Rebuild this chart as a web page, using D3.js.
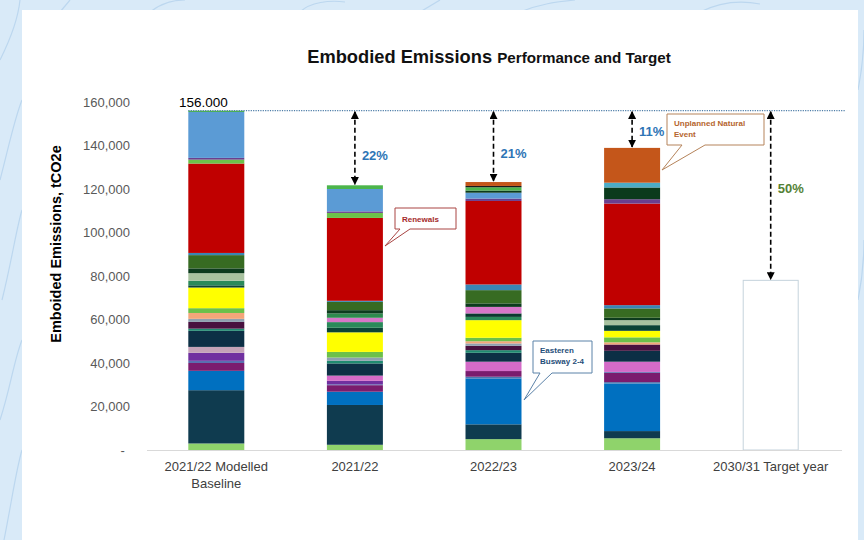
<!DOCTYPE html>
<html>
<head>
<meta charset="utf-8">
<script src="https://cdn.jsdelivr.net/npm/d3@7"></script>
<style>
  html, body { margin: 0; padding: 0; background: #d9eaf8; }
  svg { display: block; font-family: "Liberation Sans", Arial, sans-serif; }
</style>
</head>
<body>
<svg id="chart" width="864" height="540"></svg>
<script>
// Bar categories (x axis)
const categories = ["2021/22 Modelled Baseline", "2021/22", "2022/23", "2023/24", "2030/31 Target year"];
const categoryLines = [["2021/22 Modelled", "Baseline"], ["2021/22"], ["2022/23"], ["2023/24"], ["2030/31 Target year"]];

// Stacked components, bottom to top
const seriesNames = [
  "lg", "navy", "Easteren Busway 2-4", "steel", "mag", "steel2", "purp", "mauve", "pink", "navy2",
  "tealg", "dpurp", "gray", "salmon", "lg2", "yellow", "dteal", "gteal", "dk", "sage",
  "pink2", "mgreen", "dgreen", "green", "tblue", "Renewals", "lg3", "purp2", "lblue", "dgreen2",
  "lcyan", "topg", "dark", "Unplanned Natural Event"
];
const seriesColors = [
  "#8fd36b", "#0f3b4f", "#0070c0", "#4a78b0", "#7b1c6e", "#5a6fb0", "#7030a0", "#c4a3b8", "#d46bc8", "#0c2f45",
  "#1f8a70", "#48113f", "#8fa0b0", "#f4a67a", "#6cc04a", "#ffff00", "#0c4436", "#2a8a5a", "#0a3a30", "#a9c3a0",
  "#d777c9", "#2f8a4e", "#0d3b1e", "#376b22", "#3a86b4", "#c00000", "#6cc24a", "#6a3f8e", "#5b9bd5", "#0b3a1c",
  "#4bacc6", "#4cb54c", "#1a1a1a", "#c4561a"
];
// Values (tCO2e) for the four reported columns, one row per component
const seriesValues = [
  [3000, 2400, 5000, 5400],
  [24500, 18300, 6800, 3300],
  [8900, 6100, 21100, 21900],
  [0, 0, 800, 600],
  [3600, 3000, 2600, 4300],
  [1000, 400, 0, 400],
  [3700, 1600, 0, 0],
  [2700, 0, 0, 0],
  [0, 2400, 4300, 4700],
  [7400, 5600, 4100, 5000],
  [1000, 1200, 1200, 0],
  [3100, 0, 2000, 2900],
  [1400, 1500, 1100, 0],
  [2700, 0, 1000, 1000],
  [2200, 2600, 1600, 2300],
  [9500, 9000, 8100, 3000],
  [1000, 2100, 0, 2600],
  [2100, 2600, 1500, 0],
  [0, 0, 1600, 0],
  [3500, 0, 0, 2300],
  [0, 2000, 3000, 0],
  [0, 2000, 0, 0],
  [2200, 1500, 1600, 1100],
  [6100, 3800, 6100, 4300],
  [1000, 500, 2600, 1500],
  [41100, 38100, 38400, 46700],
  [1800, 2300, 0, 0],
  [800, 700, 1100, 2000],
  [21100, 10300, 2700, 0],
  [0, 0, 1000, 5400],
  [0, 0, 0, 2200],
  [600, 1700, 1500, 0],
  [0, 0, 600, 0],
  [0, 0, 1800, 16000]
];
const targetReduction = 0.5;
const yTicks = [0, 20000, 40000, 60000, 80000, 100000, 120000, 140000, 160000];

// Callouts attached to named components
const callouts = [
  { series: "Renewals", bar: 1, lines: ["Renewals"], box: [395, 208, 61, 21], wedge: [400, 410], tip: [385, 246], stroke: "#a94442", color: "#a52a2a" },
  { series: "Easteren Busway 2-4", bar: 2, lines: ["Easteren", "Busway 2-4"], box: [533, 341, 59, 32], wedge: [540, 552], tip: [524, 400], stroke: "#5b82a8", color: "#1f4e79" },
  { series: "Unplanned Natural Event", bar: 3, lines: ["Unplanned Natural", "Event"], box: [667, 114, 97, 31], wedge: [682, 705], tip: [662, 170], stroke: "#b5835a", color: "#b5652e" }
];

const svg = d3.select("#chart");
const W = 864, H = 540;

// Page background with faint decorative strokes
const bg = svg.append("g");
bg.append("rect").attr("width", W).attr("height", H).attr("fill", "#d9eaf8");
const deco = [
  "M0,60 C10,40 18,20 20,0", "M0,180 C8,150 14,120 22,100", "M2,300 C12,260 16,230 22,210",
  "M0,420 C10,390 14,360 22,340", "M4,540 C12,500 16,470 22,450", "M150,12 C160,4 170,0 185,0",
  "M300,12 C310,2 330,0 345,2", "M520,12 C540,4 555,2 575,0", "M700,12 C720,2 740,0 760,4",
  "M858,90 C862,70 864,50 864,30", "M858,300 C862,280 864,260 864,240", "M420,12 L440,0", "M60,12 L70,0"
];
bg.selectAll("path.deco").data(deco).join("path")
  .attr("d", d => d).attr("fill", "none").attr("stroke", "#bcd7ef").attr("stroke-width", 1.2);

// White card
svg.append("rect").attr("x", 22).attr("y", 10).attr("width", 836).attr("height", 540).attr("fill", "#ffffff");

// Scales
const x = d3.scaleBand().domain(categories).range([147, 840]).paddingInner(0.596).paddingOuter(0.298);
const y = d3.scaleLinear().domain([0, 160000]).range([450, 102]);

// Stack table
const table = categories.slice(0, 4).map((c, i) => {
  const row = { cat: c };
  seriesNames.forEach((s, j) => { row[s] = seriesValues[j][i]; });
  return row;
});
const totals = table.map(r => d3.sum(seriesNames, s => r[s]));
const baseline = totals[0];
const targetValue = baseline * (1 - targetReduction);

const stack = d3.stack().keys(seriesNames);
const layers = stack(table);

const gBars = svg.append("g");
gBars.selectAll("g.layer").data(layers).join("g")
  .attr("fill", (d, i) => seriesColors[i])
  .selectAll("rect").data(d => d.filter(p => p[1] > p[0])).join("rect")
  .attr("x", d => x(d.data.cat))
  .attr("width", x.bandwidth())
  .attr("y", d => y(d[1]))
  .attr("height", d => y(d[0]) - y(d[1]));

// Target column
svg.append("rect")
  .attr("x", x(categories[4]) + 0.5)
  .attr("y", y(targetValue))
  .attr("width", x.bandwidth() - 1)
  .attr("height", y(0) - y(targetValue))
  .attr("fill", "#ffffff").attr("stroke", "#c5d3dc").attr("stroke-width", 1);

// Baseline axis
svg.append("line").attr("x1", 147).attr("x2", 842).attr("y1", y(0) + 0.5).attr("y2", y(0) + 0.5)
  .attr("stroke", "#d9d9d9").attr("stroke-width", 1);

// Y axis tick labels
const yAxis = d3.axisLeft(y).tickValues(yTicks).tickSize(0)
  .tickFormat(d => d === 0 ? "-" : d3.format(",")(d));
const gy = svg.append("g").attr("transform", "translate(133,0)").call(yAxis);
gy.select(".domain").remove();
gy.selectAll("text").attr("font-family", "Liberation Sans, Arial, sans-serif").attr("font-size", 13).attr("fill", "#595959");
gy.selectAll(".tick").filter(d => d === 0).select("text").attr("dx", "-0.4em");

// Y axis title
svg.append("text")
  .attr("transform", `translate(61,${244}) rotate(-90)`)
  .attr("text-anchor", "middle").attr("font-size", 14.5).attr("font-weight", "bold").attr("fill", "#000")
  .text("Emboided Emissions, tCO2e");

// X axis labels
categories.forEach((c, i) => {
  const t = svg.append("text").attr("text-anchor", "middle").attr("font-size", 13).attr("fill", "#404040")
    .attr("x", x(c) + x.bandwidth() / 2).attr("y", 471);
  categoryLines[i].forEach((ln, k) => t.append("tspan").attr("x", x(c) + x.bandwidth() / 2).attr("dy", k === 0 ? 0 : 17).text(ln));
});

// Title
const title = svg.append("text").attr("x", 489).attr("y", 63).attr("text-anchor", "middle").attr("font-weight", "bold").attr("fill", "#111");
title.append("tspan").attr("font-size", 18.3).text("Embodied Emissions ");
title.append("tspan").attr("font-size", 15.2).text("Performance and Target");

// Baseline reference line and value
svg.append("line").attr("x1", x(categories[0])).attr("x2", 845).attr("y1", y(baseline)).attr("y2", y(baseline))
  .attr("stroke", "#4f7ea8").attr("stroke-width", 1.2).attr("stroke-dasharray", "1.2,1.2");
svg.append("text").attr("x", 179).attr("y", 107).attr("font-size", 13.5).attr("fill", "#000")
  .text(d3.format(",")(baseline).replace(",", "."));

// Arrow markers
const defs = svg.append("defs");
defs.append("marker").attr("id", "ah").attr("viewBox", "0 0 10 10").attr("refX", 9).attr("refY", 5)
  .attr("markerWidth", 5).attr("markerHeight", 5).attr("orient", "auto-start-reverse")
  .append("path").attr("d", "M0,0 L10,5 L0,10 Z").attr("fill", "#000");

const reductions = [
  { bar: 1, value: totals[1], color: "#2e75b6", dyText: 12 },
  { bar: 2, value: totals[2], color: "#2e75b6", dyText: 12 },
  { bar: 3, value: totals[3], color: "#2e75b6", dyText: 7 },
  { bar: 4, value: targetValue, color: "#548235", dyText: -3 }
];
reductions.forEach(r => {
  const cx = x(categories[r.bar]) + x.bandwidth() / 2;
  const y0 = y(baseline) + 1, y1 = y(r.value) - 1;
  svg.append("line").attr("x1", cx).attr("x2", cx).attr("y1", y0).attr("y2", y1)
    .attr("stroke", "#000").attr("stroke-width", 1.6).attr("stroke-dasharray", "5,3")
    .attr("marker-start", "url(#ah)").attr("marker-end", "url(#ah)");
  const pct = Math.round((1 - r.value / baseline) * 100);
  svg.append("text").attr("x", cx + 7).attr("y", (y0 + y1) / 2 + r.dyText)
    .attr("font-size", 13).attr("font-weight", "bold").attr("fill", r.color).text(pct + "%");
});

// Callouts
callouts.forEach(c => {
  const [bx, by, bw, bh] = c.box;
  const b = by + bh;
  const p = d3.path();
  p.moveTo(bx, by); p.lineTo(bx + bw, by); p.lineTo(bx + bw, b);
  p.lineTo(c.wedge[1], b); p.lineTo(c.tip[0], c.tip[1]); p.lineTo(c.wedge[0], b);
  p.lineTo(bx, b); p.closePath();
  svg.append("path").attr("d", p.toString()).attr("fill", "#fff").attr("stroke", c.stroke).attr("stroke-width", 1);
  const t = svg.append("text").attr("font-size", 8).attr("font-weight", "bold").attr("fill", c.color);
  const startY = c.lines.length === 1 ? by + bh / 2 + 3 : by + 12;
  c.lines.forEach((ln, k) => t.append("tspan").attr("x", bx + 7).attr("y", startY + k * 11).text(ln));
});
</script>
</body>
</html>
